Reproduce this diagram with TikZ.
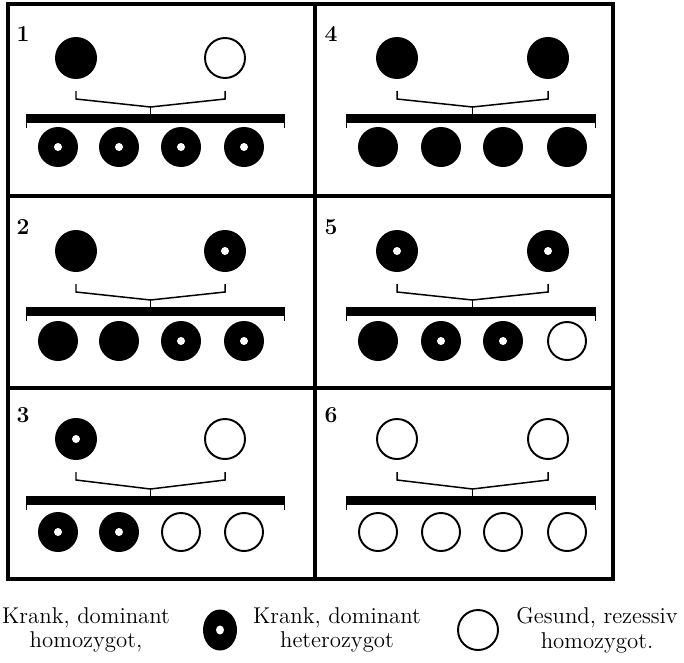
\documentclass[tikz,border=0pt]{standalone}
\usepackage{tikz}
\usetikzlibrary{positioning}
\begin{document}
\begin{tikzpicture}[scale=0.2]
\tikzstyle{every node}+=[inner sep=0pt]
\tikzstyle{frame}=[black, line width=2pt]
\tikzstyle{bracket}=[black, line width=0.85pt]
\tikzstyle{ring}=[black, line width=1.1pt]
\tikzstyle{panelno}=[font=\bfseries\fontsize{13}{15}\selectfont]
\tikzstyle{legendtext}=[align=center, font=\fontsize{13}{14}\selectfont]
\clip (0,0) rectangle (68.4,-66.2);
% frame
\draw [frame] (0.8,-0.4) rectangle (61.3,-57.9);
\draw [frame] (31.5,-0.4) -- (31.5,-57.9);
\draw [frame] (0.8,-19.6) -- (61.3,-19.6);
\draw [frame] (0.8,-38.8) -- (61.3,-38.8);
% panel 1
\node [panelno] (no1) at (2.3,-3.4) {1};
\fill [black] (7.6,-5.8) circle (2.1);
\draw [ring] (22.5,-5.8) circle (2.0);
\draw [bracket] (7.6,-9.1) -- (7.6,-9.9) -- (15.05,-10.7) -- (22.5,-9.9) -- (22.5,-9.1);
\draw [bracket] (15.05,-10.7) -- (15.05,-11.4);
\fill [black] (2.6,-11.4) rectangle (28.5,-12.3);
\draw [bracket] (2.65,-12.3) -- (2.65,-12.8);
\draw [bracket] (28.45,-12.3) -- (28.45,-12.8);
\fill [black] (5.8,-14.7) circle (2.0);
\fill [white] (5.8,-14.7) circle (0.4);
\fill [black] (11.9,-14.7) circle (2.0);
\fill [white] (11.9,-14.7) circle (0.4);
\fill [black] (18.1,-14.7) circle (2.0);
\fill [white] (18.1,-14.7) circle (0.4);
\fill [black] (24.4,-14.7) circle (2.0);
\fill [white] (24.4,-14.7) circle (0.4);
% panel 2
\node [panelno] (no2) at (2.3,-22.7) {2};
\fill [black] (7.6,-25.1) circle (2.1);
\fill [black] (22.5,-25.1) circle (2.1);
\fill [white] (22.5,-25.1) circle (0.4);
\draw [bracket] (7.6,-28.4) -- (7.6,-29.2) -- (15.05,-30.0) -- (22.5,-29.2) -- (22.5,-28.4);
\draw [bracket] (15.05,-30.0) -- (15.05,-30.7);
\fill [black] (2.6,-30.7) rectangle (28.5,-31.6);
\draw [bracket] (2.65,-31.6) -- (2.65,-32.1);
\draw [bracket] (28.45,-31.6) -- (28.45,-32.1);
\fill [black] (5.8,-34.1) circle (2.0);
\fill [black] (11.9,-34.1) circle (2.0);
\fill [black] (18.1,-34.1) circle (2.0);
\fill [white] (18.1,-34.1) circle (0.4);
\fill [black] (24.4,-34.1) circle (2.0);
\fill [white] (24.4,-34.1) circle (0.4);
% panel 3
\node [panelno] (no3) at (2.3,-41.5) {3};
\fill [black] (7.6,-43.9) circle (2.1);
\fill [white] (7.6,-43.9) circle (0.4);
\draw [ring] (22.5,-43.9) circle (2.0);
\draw [bracket] (7.6,-47.2) -- (7.6,-48.0) -- (15.05,-48.9) -- (22.5,-48.0) -- (22.5,-47.2);
\draw [bracket] (15.05,-48.9) -- (15.05,-49.6);
\fill [black] (2.6,-49.6) rectangle (28.5,-50.5);
\draw [bracket] (2.65,-50.5) -- (2.65,-51.0);
\draw [bracket] (28.45,-50.5) -- (28.45,-51.0);
\fill [black] (5.8,-53.2) circle (2.0);
\fill [white] (5.8,-53.2) circle (0.4);
\fill [black] (11.9,-53.2) circle (2.0);
\fill [white] (11.9,-53.2) circle (0.4);
\draw [ring] (18.1,-53.2) circle (1.9);
\draw [ring] (24.4,-53.2) circle (1.9);
% panel 4
\node [panelno] (no4) at (33.1,-3.4) {4};
\fill [black] (39.7,-5.8) circle (2.1);
\fill [black] (54.8,-5.8) circle (2.1);
\draw [bracket] (39.7,-9.1) -- (39.7,-9.9) -- (47.25,-10.7) -- (54.8,-9.9) -- (54.8,-9.1);
\draw [bracket] (47.25,-10.7) -- (47.25,-11.4);
\fill [black] (34.6,-11.4) rectangle (59.6,-12.3);
\draw [bracket] (34.65,-12.3) -- (34.65,-12.8);
\draw [bracket] (59.55,-12.3) -- (59.55,-12.8);
\fill [black] (37.8,-14.7) circle (2.0);
\fill [black] (44.1,-14.7) circle (2.0);
\fill [black] (50.3,-14.7) circle (2.0);
\fill [black] (56.7,-14.7) circle (2.0);
% panel 5
\node [panelno] (no5) at (33.1,-22.7) {5};
\fill [black] (39.7,-25.1) circle (2.1);
\fill [white] (39.7,-25.1) circle (0.4);
\fill [black] (54.8,-25.1) circle (2.1);
\fill [white] (54.8,-25.1) circle (0.4);
\draw [bracket] (39.7,-28.4) -- (39.7,-29.2) -- (47.25,-30.0) -- (54.8,-29.2) -- (54.8,-28.4);
\draw [bracket] (47.25,-30.0) -- (47.25,-30.7);
\fill [black] (34.6,-30.7) rectangle (59.6,-31.6);
\draw [bracket] (34.65,-31.6) -- (34.65,-32.1);
\draw [bracket] (59.55,-31.6) -- (59.55,-32.1);
\fill [black] (37.8,-34.1) circle (2.0);
\fill [black] (44.1,-34.1) circle (2.0);
\fill [white] (44.1,-34.1) circle (0.4);
\fill [black] (50.3,-34.1) circle (2.0);
\fill [white] (50.3,-34.1) circle (0.4);
\draw [ring] (56.7,-34.1) circle (1.9);
% panel 6
\node [panelno] (no6) at (33.1,-41.5) {6};
\draw [ring] (39.7,-43.9) circle (2.0);
\draw [ring] (54.8,-43.9) circle (2.0);
\draw [bracket] (39.7,-47.2) -- (39.7,-48.0) -- (47.25,-48.9) -- (54.8,-48.0) -- (54.8,-47.2);
\draw [bracket] (47.25,-48.9) -- (47.25,-49.6);
\fill [black] (34.6,-49.6) rectangle (59.6,-50.5);
\draw [bracket] (34.65,-50.5) -- (34.65,-51.0);
\draw [bracket] (59.55,-50.5) -- (59.55,-51.0);
\draw [ring] (37.8,-53.2) circle (1.9);
\draw [ring] (44.1,-53.2) circle (1.9);
\draw [ring] (50.3,-53.2) circle (1.9);
\draw [ring] (56.7,-53.2) circle (1.9);
% legend
\node [legendtext] (homdom) at (8.6,-63.0) {Krank, dominant\\homozygot,};
\fill [black] (22.0,-63.0) ellipse (1.7 and 2.05);
\fill [white] (22.0,-63.0) ellipse (0.4 and 0.45);
\node [legendtext] (hetdom) at (33.7,-63.0) {Krank, dominant\\heterozygot};
\draw [ring] (47.8,-63.0) circle (2.0);
\node [legendtext] (homrez) at (59.7,-63.0) {Gesund, rezessiv\\homozygot.};
\end{tikzpicture}
\end{document}
